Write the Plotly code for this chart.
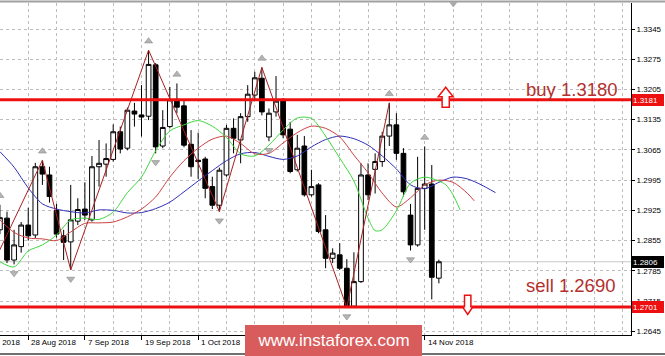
import plotly.graph_objects as go

# ---------------- data (GBP/USD daily) ----------------
bar_index = list(range(4, 67))
bar_dates = ["22 Aug", "23 Aug", "24 Aug", "27 Aug", "28 Aug", "29 Aug", "30 Aug", "31 Aug",
             "3 Sep", "4 Sep", "5 Sep", "6 Sep", "7 Sep", "10 Sep", "11 Sep", "12 Sep", "13 Sep",
             "14 Sep", "17 Sep", "18 Sep", "19 Sep", "20 Sep", "21 Sep", "24 Sep", "25 Sep",
             "26 Sep", "27 Sep", "28 Sep", "1 Oct", "2 Oct", "3 Oct", "4 Oct", "5 Oct", "8 Oct",
             "9 Oct", "10 Oct", "11 Oct", "12 Oct", "15 Oct", "16 Oct", "17 Oct", "18 Oct",
             "19 Oct", "22 Oct", "23 Oct", "24 Oct", "25 Oct", "26 Oct", "29 Oct", "30 Oct",
             "31 Oct", "1 Nov", "2 Nov", "5 Nov", "6 Nov", "7 Nov", "8 Nov", "9 Nov", "12 Nov",
             "13 Nov", "14 Nov", "15 Nov", "16 Nov"]
opens = [1.2880, 1.2907, 1.2810, 1.2841, 1.2891, 1.2868, 1.3026, 1.3007,
         1.2925, 1.2866, 1.2852, 1.2900, 1.2928, 1.2903, 1.3026, 1.3032, 1.3043,
         1.3107, 1.3069, 1.3155, 1.3146, 1.3143, 1.3262, 1.3074, 1.3119,
         1.3182, 1.3167, 1.3078, 1.3041, 1.3044, 1.2980, 1.2937, 1.3007, 1.3115,
         1.3088, 1.3142, 1.3192, 1.3231, 1.3095, 1.3153, 1.3182, 1.3113,
         1.3019, 1.3074, 1.2961, 1.2984, 1.2880, 1.2814, 1.2822, 1.2791,
         1.2703, 1.2760, 1.3007, 1.3020, 1.3038, 1.3097, 1.3123, 1.3057, 1.2914,
         1.2845, 1.2976, 1.2986, 1.2768]
highs = [1.2938, 1.2922, 1.2880, 1.2898, 1.2931, 1.3035, 1.3041, 1.3026,
         1.2940, 1.2880, 1.2984, 1.2953, 1.2990, 1.3051, 1.3088, 1.3080, 1.3124,
         1.3119, 1.3163, 1.3174, 1.3215, 1.3296, 1.3266, 1.3157, 1.3211,
         1.3219, 1.3181, 1.3111, 1.3105, 1.3049, 1.3003, 1.3024, 1.3123, 1.3138,
         1.3150, 1.3215, 1.3246, 1.3256, 1.3161, 1.3236, 1.3185, 1.3130,
         1.3100, 1.3097, 1.3019, 1.2988, 1.2914, 1.2837, 1.2849, 1.2812,
         1.2828, 1.3034, 1.3034, 1.3057, 1.3107, 1.3174, 1.3150, 1.3069, 1.2940,
         1.3049, 1.3073, 1.3030, 1.2811]
lows = [1.2870, 1.2803, 1.2800, 1.2827, 1.2855, 1.2861, 1.2984, 1.2943,
        1.2862, 1.2810, 1.2787, 1.2891, 1.2903, 1.2899, 1.2980, 1.3003, 1.3038,
        1.3057, 1.3064, 1.3119, 1.3096, 1.3134, 1.3057, 1.3069, 1.3115,
        1.3150, 1.3071, 1.3003, 1.2998, 1.2953, 1.2928, 1.2922, 1.3003, 1.3057,
        1.3034, 1.3130, 1.3181, 1.3145, 1.3085, 1.3142, 1.3092, 1.3011,
        1.3015, 1.2957, 1.2957, 1.2872, 1.2791, 1.2803, 1.2787, 1.2700,
        1.2700, 1.2757, 1.2949, 1.2964, 1.3026, 1.3074, 1.3042, 1.2957, 1.2832,
        1.2841, 1.2880, 1.2719, 1.2756]
closes = [1.2908, 1.2810, 1.2845, 1.2891, 1.2866, 1.3026, 1.3009, 1.2957,
          1.2870, 1.2851, 1.2903, 1.2927, 1.2914, 1.3026, 1.3034, 1.3045, 1.3107,
          1.3067, 1.3157, 1.3148, 1.3141, 1.3263, 1.3072, 1.3117, 1.3181,
          1.3164, 1.3076, 1.3026, 1.3038, 1.2976, 1.2937, 1.3018, 1.3115, 1.3092,
          1.3142, 1.3194, 1.3232, 1.3153, 1.3150, 1.3178, 1.3100, 1.3015,
          1.3069, 1.2961, 1.2980, 1.2876, 1.2814, 1.2826, 1.2791, 1.2703,
          1.2760, 1.3007, 1.2961, 1.3038, 1.3097, 1.3123, 1.3057, 1.2968, 1.2845,
          1.2976, 1.2986, 1.2770, 1.2806]

# Alligator lines (shifted forward beyond the last bar)
jaw_index = [4, 6, 8, 10, 12, 14, 16, 18, 20, 22, 24, 26, 28, 30, 32, 34, 36, 38, 40,
             42, 44, 46, 48, 50, 52, 54, 56, 58, 60, 62, 64, 66, 68, 70, 72, 74]
jaw_values = [1.3061, 1.3025, 1.2977, 1.2940, 1.2928, 1.2922, 1.2919, 1.2926, 1.2925,
              1.2919, 1.2920, 1.2929, 1.2944, 1.2968, 1.2993, 1.3017, 1.3040, 1.3056,
              1.3059, 1.3050, 1.3043, 1.3051, 1.3072, 1.3089, 1.3097, 1.3091, 1.3076,
              1.3051, 1.3021, 1.2984, 1.2975, 1.2990, 1.3002, 1.2998, 1.2984, 1.2966]
teeth_index = [4, 6, 8, 10, 12, 14, 16, 18, 20, 22, 24, 26, 28, 30, 32, 34, 36, 38, 40,
               42, 44, 46, 48, 50, 52, 54, 56, 58, 60, 62, 64, 66, 68, 70, 71]
teeth_values = [1.2903, 1.2874, 1.2861, 1.2859, 1.2855, 1.2875, 1.2895, 1.2896, 1.2898,
                1.2910, 1.2928, 1.2956, 1.3002, 1.3040, 1.3069, 1.3090, 1.3097, 1.3080,
                1.3056, 1.3057, 1.3081, 1.3105, 1.3120, 1.3115, 1.3095, 1.3053, 1.3012,
                1.2965, 1.2933, 1.2954, 1.2984, 1.2995, 1.2990, 1.2965, 1.2947]
lips_index = [4, 6, 8, 10, 12, 14, 16, 18, 20, 22, 24, 26, 28, 30, 32, 34, 36, 38, 40,
              42, 44, 46, 48, 50, 52, 54, 56, 57, 58, 60, 62, 64, 66, 67, 68, 69]
lips_values = [1.2806, 1.2794, 1.2831, 1.2845, 1.2868, 1.2903, 1.2907, 1.2904, 1.2921,
               1.2966, 1.3002, 1.3063, 1.3109, 1.3123, 1.3133, 1.3120, 1.3094, 1.3056,
               1.3051, 1.3076, 1.3111, 1.3139, 1.3138, 1.3097, 1.3046, 1.2993, 1.2907,
               1.2878, 1.2880, 1.2924, 1.2988, 1.3002, 1.2993, 1.2984, 1.2961, 1.2926]

zigzag_index = [-1, 10, 14, 25, 35, 41, 53, 59]
zigzag_values = [1.2662, 1.3041, 1.2787, 1.3296, 1.2922, 1.3256, 1.2700, 1.3174]

fractal_up_index = [4, 10, 25, 29, 41, 59, 64]
fractal_down_index = [6, 14, 26, 35, 42, 53, 62]

# date ticks every 8 bars; the labels that the watermark hides are not drawn
tick_index = [0, 8, 16, 24, 32, 40, 48, 56, 64]
label_index = [0, 8, 16, 24, 32, 64]
label_text = ["16 Aug 2018", "28 Aug 2018", "7 Sep 2018", "19 Sep 2018", "1 Oct 2018",
              "14 Nov 2018"]

price_ticks = [1.2645, 1.2715, 1.2785, 1.2855, 1.2925, 1.2995, 1.3065, 1.3135,
               1.3205, 1.3275, 1.3345]
price_tick_text = ["1.2645", "1.2715", "1.2785", "1.2855", "1.2925", "1.2995", "1.3065",
                   "1.3135", "1.3205", "1.3275", "1.3345"]

buy_level = 1.3181
sell_level = 1.2701
last_price = 1.2806
buy_text = "buy 1.3180"
sell_text = "sell 1.2690"

# ---------------- layout geometry ----------------
W, H = 665, 356
ML, MR, MT, MB = 0, 34, 3, 21
PW, PH = W - ML - MR, H - MT - MB
X0, X1 = 4.011, 93.14
Y0, Y1 = 1.26364, 1.34052
FONT = "Liberation Sans, Arial, sans-serif"
GRID = "#bdbdbd"

price_per_px = (Y1 - Y0) / PH


def xfrac(i):
    return (i - X0) / (X1 - X0)


def ypaper(py):
    return (MT + PH - py) / PH


fig = go.Figure()

fig.add_trace(go.Candlestick(
    x=bar_index, open=opens, high=highs, low=lows, close=closes,
    text=bar_dates, hoverinfo="text+y",
    increasing=dict(line=dict(color="black", width=1), fillcolor="white"),
    decreasing=dict(line=dict(color="black", width=1), fillcolor="black"),
    whiskerwidth=0, showlegend=False,
))

fig.add_trace(go.Scatter(x=jaw_index, y=jaw_values, mode="lines",
                         line=dict(color="#3030b8", width=1, shape="spline", smoothing=0.8),
                         showlegend=False, hoverinfo="skip"))
fig.add_trace(go.Scatter(x=teeth_index, y=teeth_values, mode="lines",
                         line=dict(color="#cc4040", width=1, shape="spline", smoothing=0.8),
                         showlegend=False, hoverinfo="skip"))
fig.add_trace(go.Scatter(x=lips_index, y=lips_values, mode="lines",
                         line=dict(color="#3ed83e", width=1, shape="spline", smoothing=0.8),
                         showlegend=False, hoverinfo="skip"))
fig.add_trace(go.Scatter(x=zigzag_index, y=zigzag_values, mode="lines",
                         line=dict(color="#a82020", width=1),
                         showlegend=False, hoverinfo="skip"))

up_y = [highs[bar_index.index(i)] + 9 * price_per_px for i in fractal_up_index]
dn_y = [lows[bar_index.index(i)] - 9 * price_per_px for i in fractal_down_index]
fig.add_trace(go.Scatter(x=fractal_up_index, y=up_y, mode="markers",
                         marker=dict(symbol="triangle-up", size=7, color="#b4b4b4",
                                     line=dict(color="#8c8c8c", width=0.6)),
                         showlegend=False, hoverinfo="skip"))
fig.add_trace(go.Scatter(x=fractal_down_index, y=dn_y, mode="markers",
                         marker=dict(symbol="triangle-down", size=7, color="#b4b4b4",
                                     line=dict(color="#8c8c8c", width=0.6)),
                         showlegend=False, hoverinfo="skip"))

shapes = []
# current price line
shapes.append(dict(type="line", xref="paper", yref="y", x0=0, x1=1, y0=last_price,
                   y1=last_price, line=dict(color="#c8c8c8", width=1), layer="below"))
# level lines
for lvl in (buy_level, sell_level):
    shapes.append(dict(type="line", xref="paper", yref="y", x0=0, x1=1, y0=lvl, y1=lvl,
                       line=dict(color="#ee1010", width=3), layer="above"))
# hollow arrows
shapes.append(dict(type="path", xref="paper", yref="paper", xsizemode="pixel",
                   ysizemode="pixel", xanchor=445.7 / PW, yanchor=ypaper(97),
                   path="M0,9.7 L7.5,0.3 L3.6,0.3 L3.6,-10.3 L-3.6,-10.3 L-3.6,0.3 L-7.5,0.3 Z",
                   line=dict(color="#ee1010", width=1.5), fillcolor="white", layer="above"))
shapes.append(dict(type="path", xref="paper", yref="paper", xsizemode="pixel",
                   ysizemode="pixel", xanchor=467.7 / PW, yanchor=ypaper(306.7),
                   path="M-3.2,11.4 L3.2,11.4 L3.2,0 L5.2,0 L0,-7.6 L-5.2,0 L-3.2,0 Z",
                   line=dict(color="#ee1010", width=1.5), fillcolor="white", layer="above"))
# window edges
shapes.append(dict(type="line", xref="paper", yref="paper", x0=0, x1=W / PW,
                   y0=ypaper(1.5), y1=ypaper(1.5), line=dict(color="#a0a0a0", width=2)))
shapes.append(dict(type="line", xref="paper", yref="paper", x0=0, x1=W / PW,
                   y0=ypaper(354), y1=ypaper(354), line=dict(color="#707070", width=2)))
# chart shift marker
shapes.append(dict(type="path", xref="paper", yref="paper", xsizemode="pixel",
                   ysizemode="pixel", xanchor=453.3 / PW, yanchor=ypaper(2.5),
                   path="M-3.5,0 L3.5,0 L0,-4.5 Z", line=dict(color="#a0a0a0", width=0.5),
                   fillcolor="#a8a8a8", layer="above"))

annotations = []
for i, t in zip(label_index, label_text):
    annotations.append(dict(xref="paper", yref="paper", x=xfrac(i), y=ypaper(342.5),
                            xanchor="left", yanchor="middle", xshift=1, text=t,
                            showarrow=False, font=dict(family=FONT, size=8, color="black")))
annotations.append(dict(xref="paper", yref="paper", x=571.5 / PW, y=ypaper(89.5),
                        xanchor="center", yanchor="middle", text=buy_text, showarrow=False,
                        font=dict(family=FONT, size=18.5, color="#b3302e")))
annotations.append(dict(xref="paper", yref="paper", x=570.5 / PW, y=ypaper(285.5),
                        xanchor="center", yanchor="middle", text=sell_text, showarrow=False,
                        font=dict(family=FONT, size=18.5, color="#b3302e")))
for lvl, bg in ((buy_level, "#ee1010"), (sell_level, "#ee1010"), (last_price, "#000000")):
    annotations.append(dict(xref="paper", yref="y", x=1, y=lvl, xanchor="left",
                            yanchor="middle", xshift=1, text="%.4f" % lvl, showarrow=False,
                            bgcolor=bg, borderpad=1, borderwidth=0, width=30, height=10,
                            align="left", font=dict(family=FONT, size=8, color="white")))
# watermark
annotations.append(dict(xref="paper", yref="paper", x=333.3 / PW, y=ypaper(340.5),
                        xanchor="center", yanchor="middle", text="www.instaforex.com",
                        showarrow=False, bgcolor="rgb(216,92,92)", borderpad=0,
                        borderwidth=0, width=177, height=31,
                        font=dict(family=FONT, size=17, color="white")))

fig.update_layout(
    width=W, height=H, autosize=False,
    margin=dict(l=ML, r=MR, t=MT, b=MB, pad=0),
    paper_bgcolor="white", plot_bgcolor="white",
    boxgap=0.05, boxgroupgap=0.3,
    showlegend=False,
    shapes=shapes, annotations=annotations,
    xaxis=dict(range=[X0, X1], fixedrange=True, rangeslider=dict(visible=False),
               tickmode="array", tickvals=tick_index, showticklabels=False,
               ticks="outside", ticklen=4, tickcolor="black",
               showgrid=True, gridcolor=GRID, griddash="3px,3px", gridwidth=1,
               minor=dict(tick0=0, dtick=4, showgrid=True, gridcolor=GRID,
                          griddash="3px,3px", ticks=""),
               showline=True, linecolor="black", linewidth=1, zeroline=False),
    yaxis=dict(range=[Y0, Y1], fixedrange=True, side="right",
               tickmode="array", tickvals=price_ticks, ticktext=price_tick_text,
               ticks="outside", ticklen=3, tickcolor="black",
               tickfont=dict(family=FONT, size=8, color="black"),
               showgrid=True, gridcolor=GRID, griddash="3px,3px", gridwidth=1,
               showline=True, linecolor="black", linewidth=1, zeroline=False),
)

fig.write_html("out.html")
